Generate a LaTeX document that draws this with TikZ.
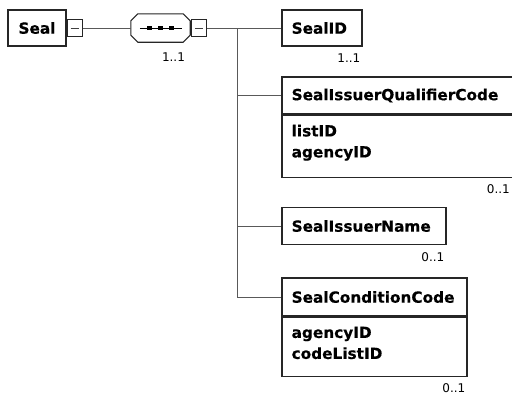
\documentclass[tikz,border=0pt]{standalone}
\usepackage{fontspec}
\setmainfont{DejaVu Sans}
\newfontfamily\boldnames{DejaVu Sans}[FakeBold=0.4]
\begin{document}
\begin{tikzpicture}[x=1pt,y=-1pt,
  elem/.style={draw=black!85, line width=1.1pt, fill=white, inner sep=0pt},
  lbl/.style={inner sep=0pt, font=\fontsize{15.3}{21}\selectfont\boldnames\bfseries, align=left},
  card/.style={inner sep=0pt, font=\fontsize{12}{14}\selectfont},
  conn/.style={draw=black!65, line width=1pt},
  mbox/.style={draw=black!85, line width=1pt, fill=white, inner sep=0pt, minimum width=15pt, minimum height=17pt},
  dot/.style={fill=black, inner sep=0pt, minimum size=4.5pt}
  ]
\useasboundingbox (0,0) rectangle (512,399);

% Seal root
\node[elem, minimum width=58pt, minimum height=36pt] (seal) at (37,28) {};
\node[lbl] (sealt) at (seal.center) {Seal};
\node[mbox, anchor=west] (sealm) at (seal.east) {};
\draw[conn, draw=black!75, line width=0.9pt] ([xshift=-4pt]sealm.center) -- ([xshift=4pt]sealm.center);

% sequence compositor
\node[minimum width=59pt, minimum height=28pt, inner sep=0pt] (seq) at (160.5,28) {};
\draw[elem] ([xshift=7pt]seq.north west) -- ([xshift=-7pt]seq.north east)
  -- ([yshift=-7pt]seq.north east) -- ([yshift=7pt]seq.south east)
  -- ([xshift=-7pt]seq.south east) -- ([xshift=7pt]seq.south west)
  -- ([yshift=7pt]seq.south west) -- ([yshift=-7pt]seq.north west) -- cycle;
\draw[conn, draw=black] ([xshift=9pt]seq.west) -- ([xshift=-8pt]seq.east);
\node[dot] (d1) at ([xshift=-11pt]seq.center) {};
\node[dot] (d2) at (seq.center) {};
\node[dot] (d3) at ([xshift=11pt]seq.center) {};
\node[mbox, anchor=west] (seqm) at ([xshift=1pt]seq.east) {};
\draw[conn, draw=black!75, line width=0.9pt] ([xshift=-4pt]seqm.center) -- ([xshift=4pt]seqm.center);
\node[card, anchor=north] (seqc) at ([xshift=13pt,yshift=-10pt]seq.south) {1..1};

% children
\node[elem, minimum width=80pt, minimum height=36pt] (sid) at (322,28) {};
\node[lbl, anchor=west] (sidt) at ([xshift=10pt]sid.west) {SealID};
\node[card, anchor=north east] (sidc) at ([xshift=-2pt,yshift=-7pt]sid.south east) {1..1};

\node[elem, minimum width=232pt, minimum height=37pt] (sqc) at (398,95.5) {};
\node[lbl, anchor=west] (sqct) at ([xshift=10pt]sqc.west) {SealIssuerQualifierCode};
\node[elem, minimum width=232pt, minimum height=62pt, anchor=north] (sqca) at (sqc.south) {};
\node[lbl, anchor=north west] (sqcat) at ([xshift=10pt,yshift=-10pt]sqca.north west) {listID\\agencyID};
\node[card, anchor=north east] (sqcc) at ([yshift=-7pt]sqca.south east -| 510,0) {0..1};

\node[elem, minimum width=164pt, minimum height=37pt] (sin) at (364,226) {};
\node[lbl, anchor=west] (sint) at ([xshift=10pt]sin.west) {SealIssuerName};
\node[card, anchor=north east] (sinc) at ([xshift=-2pt,yshift=-7pt]sin.south east) {0..1};

\node[elem, minimum width=185pt, minimum height=38pt] (scc) at (374.5,297) {};
\node[lbl, anchor=west] (scct) at ([xshift=10pt]scc.west) {SealConditionCode};
\node[elem, minimum width=185pt, minimum height=59pt, anchor=north] (scca) at (scc.south) {};
\node[lbl, anchor=north west] (sccat) at ([xshift=10pt,yshift=-10pt]scca.north west) {agencyID\\codeListID};
\node[card, anchor=north east] (sccc) at ([xshift=-2pt,yshift=-7pt]scca.south east) {0..1};

% connectors
\coordinate (j) at (237,28);
\draw[conn] (sealm.east) -- (seq.west);
\draw[conn] (seqm.east) -- (sid.west);
\draw[conn] (j) |- (sqc.west);
\draw[conn] (j) |- (sin.west);
\draw[conn] (j) |- (scc.west);
\end{tikzpicture}
\end{document}
